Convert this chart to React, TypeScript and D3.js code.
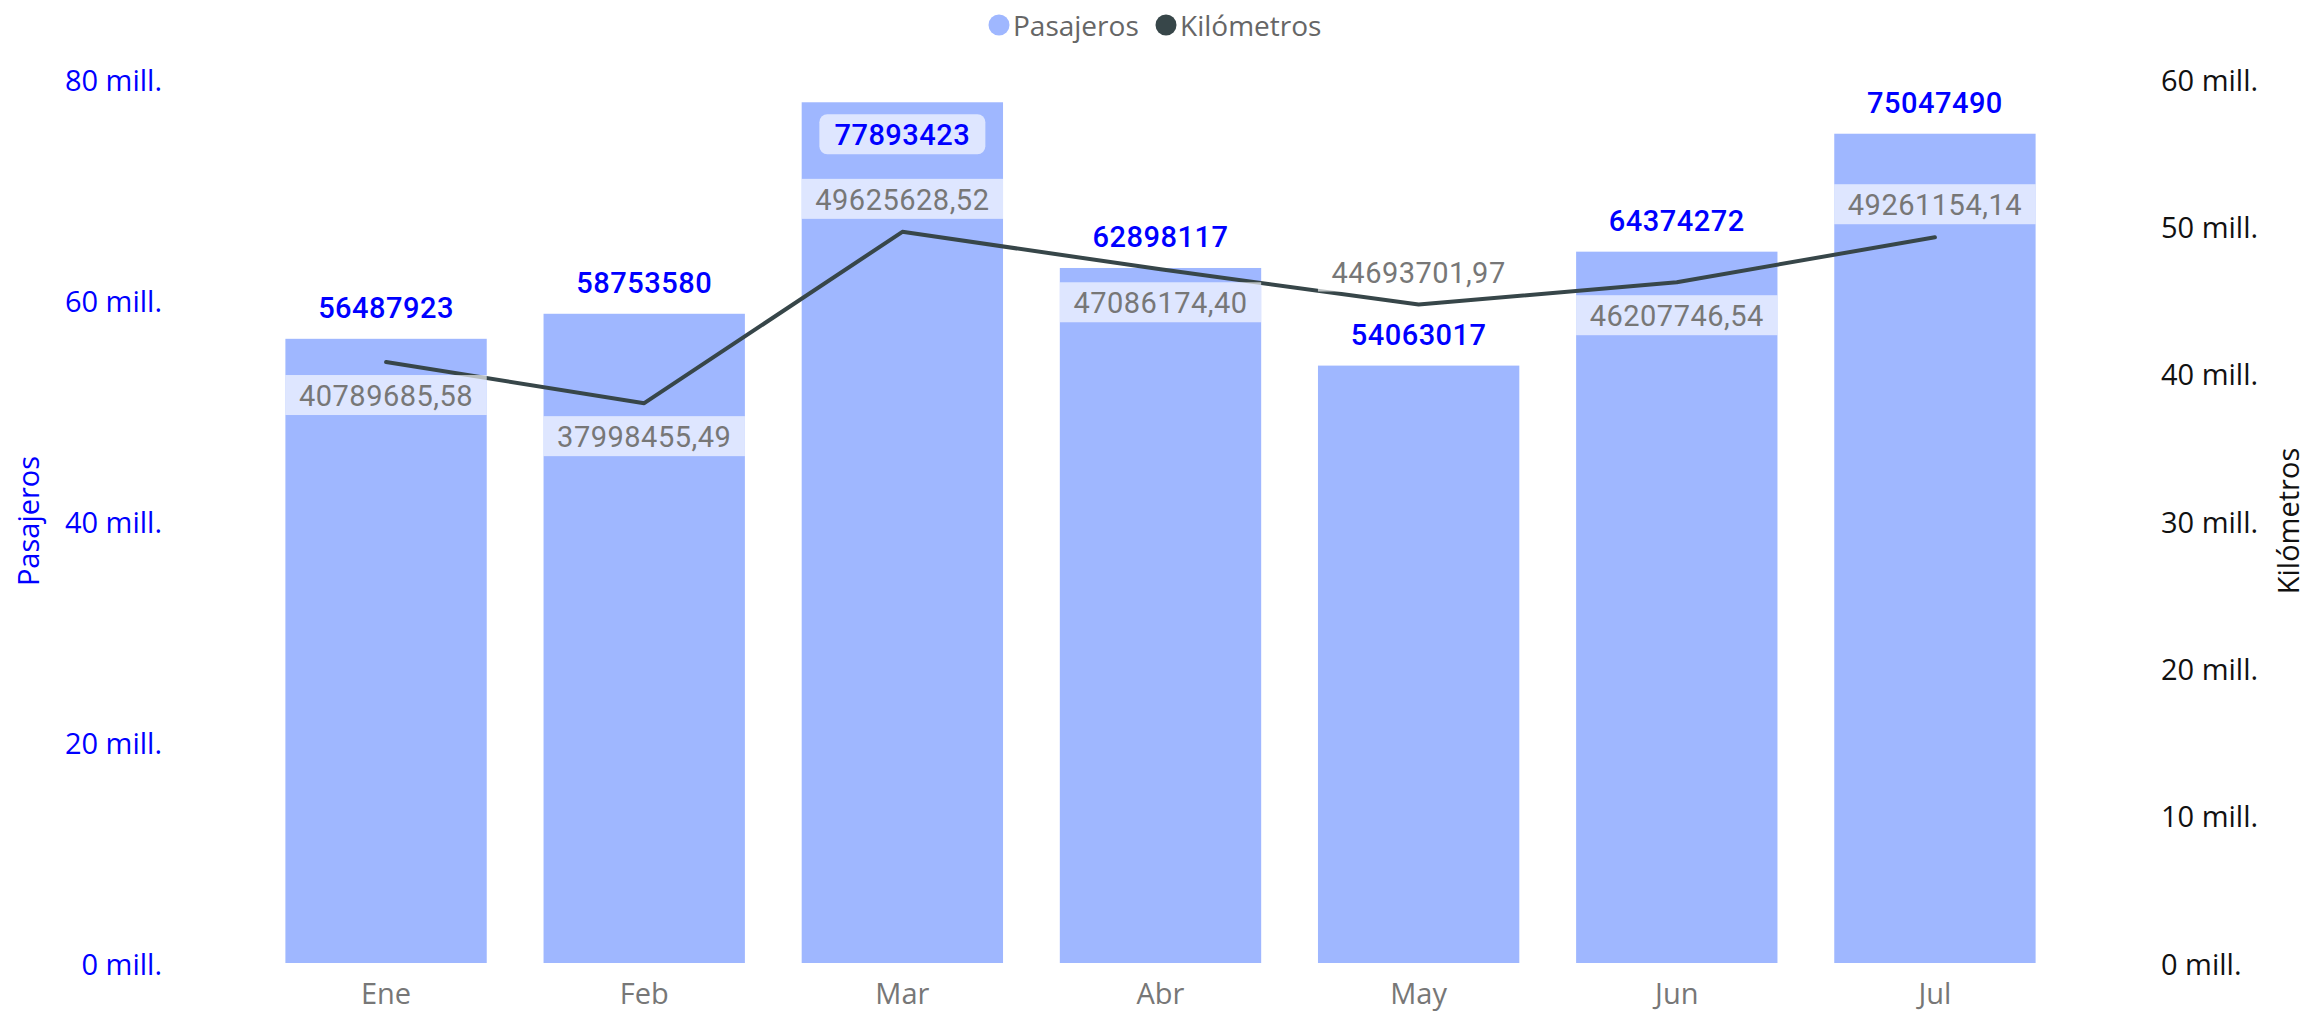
import * as d3 from 'd3'

// data
const months = ['Ene', 'Feb', 'Mar', 'Abr', 'May', 'Jun', 'Jul']
const pasajeros = [56487923, 58753580, 77893423, 62898117, 54063017, 64374272, 75047490]
const kilometros = [40789685.58, 37998455.49, 49625628.52, 47086174.40, 44693701.97, 46207746.54, 49261154.14]
const leftTicks = [0, 20e6, 40e6, 60e6, 80e6]
const rightTicks = [0, 10e6, 20e6, 30e6, 40e6, 50e6, 60e6]

const W = 2313
const H = 1013
const TOP = 79
const BOTTOM = 963

const BAR = '#9fb7ff'
const LINE = '#374649'
const BLUE = '#0000ff'
const GREY = '#777777'
const LABEL_BG = 'rgba(255,255,255,0.66)'
const AXIS_FONT = '"Open Sans", "Noto Sans", sans-serif'
const LABEL_FONT = 'Roboto, "DejaVu Sans", sans-serif'

// where Power BI put the km labels to dodge the column labels
const KM_ABOVE = new Set(['Mar', 'May', 'Jul'])

const fmtMill = (v: number) => `${v / 1e6} mill.`
const fmtKm = (v: number) => v.toFixed(2).replace('.', ',')

export default function App() {
  const x = d3.scaleBand<string>().domain(months).range([257, 2064]).paddingInner(0.22).paddingOuter(0.11)
  const yL = d3.scaleLinear().domain([0, 80e6]).range([BOTTOM, TOP])
  const yR = d3.scaleLinear().domain([0, 60e6]).range([BOTTOM, TOP])
  const bw = x.bandwidth()
  const cx = (m: string) => (x(m) ?? 0) + bw / 2

  const line = d3.line<number>()
    .x((_, i) => cx(months[i]))
    .y(d => yR(d))

  const boxH = 40

  return (
    <svg width={W} height={H} style={{ position: 'absolute', left: 0, top: 0, background: '#fff' }}>
      {/* legend */}
      <g fontFamily={AXIS_FONT} fontSize={28} fill="#666">
        <circle cx={999} cy={25} r={10.5} fill={BAR} />
        <text x={1013} y={25} dominantBaseline="central">Pasajeros</text>
        <circle cx={1166} cy={25} r={10.5} fill={LINE} />
        <text x={1180} y={25} dominantBaseline="central">Kilómetros</text>
      </g>

      {/* left axis */}
      <g fontFamily={AXIS_FONT} fontSize={29} fill={BLUE}>
        {leftTicks.map(t => (
          <text key={t} x={162} y={yL(t)} textAnchor="end" dominantBaseline="central">{fmtMill(t)}</text>
        ))}
        <text transform={`translate(27,${(TOP + BOTTOM) / 2}) rotate(-90)`} textAnchor="middle" dominantBaseline="central">Pasajeros</text>
      </g>

      {/* right axis */}
      <g fontFamily={AXIS_FONT} fontSize={29} fill="#111">
        {rightTicks.map(t => (
          <text key={t} x={2161} y={yR(t)} dominantBaseline="central">{fmtMill(t)}</text>
        ))}
        <text transform={`translate(2287,${(TOP + BOTTOM) / 2}) rotate(-90)`} textAnchor="middle" dominantBaseline="central">Kilómetros</text>
      </g>

      {/* x axis */}
      <g fontFamily={AXIS_FONT} fontSize={29} fill={GREY}>
        {months.map(m => (
          <text key={m} x={cx(m)} y={992} textAnchor="middle" dominantBaseline="central">{m}</text>
        ))}
      </g>

      {/* bars */}
      {months.map((m, i) => (
        <rect key={m} x={x(m)} y={yL(pasajeros[i])} width={bw} height={BOTTOM - yL(pasajeros[i])} fill={BAR} />
      ))}

      <path d={line(kilometros) ?? ''} fill="none" stroke={LINE} strokeWidth={4} strokeLinejoin="round" strokeLinecap="round" />

      {/* km labels */}
      <g fontFamily={LABEL_FONT} fontSize={29} fill={GREY}>
        {months.map((m, i) => {
          const py = yR(kilometros[i])
          const y0 = KM_ABOVE.has(m) ? py - 13 - boxH : py + 13
          return (
            <g key={m}>
              <rect x={x(m)} y={y0} width={bw} height={boxH} fill={LABEL_BG} />
              <text x={cx(m)} y={y0 + boxH / 2 + 1} textAnchor="middle" dominantBaseline="central" letterSpacing={0.5}>{fmtKm(kilometros[i])}</text>
            </g>
          )
        })}
      </g>

      {/* pasajeros labels */}
      <g fontFamily={LABEL_FONT} fontSize={29} fontWeight={500} fill={BLUE}>
        {months.map((m, i) => {
          const top = yL(pasajeros[i])
          const inside = top - 12 - boxH < TOP
          const y0 = inside ? top + 12 : top - 12 - boxH
          const bx = 166
          return (
            <g key={m}>
              <rect x={cx(m) - bx / 2} y={y0} width={bx} height={boxH} rx={8} fill={LABEL_BG} />
              <text x={cx(m)} y={y0 + boxH / 2 + 1} textAnchor="middle" dominantBaseline="central" letterSpacing={0.5}>{pasajeros[i]}</text>
            </g>
          )
        })}
      </g>
    </svg>
  )
}
